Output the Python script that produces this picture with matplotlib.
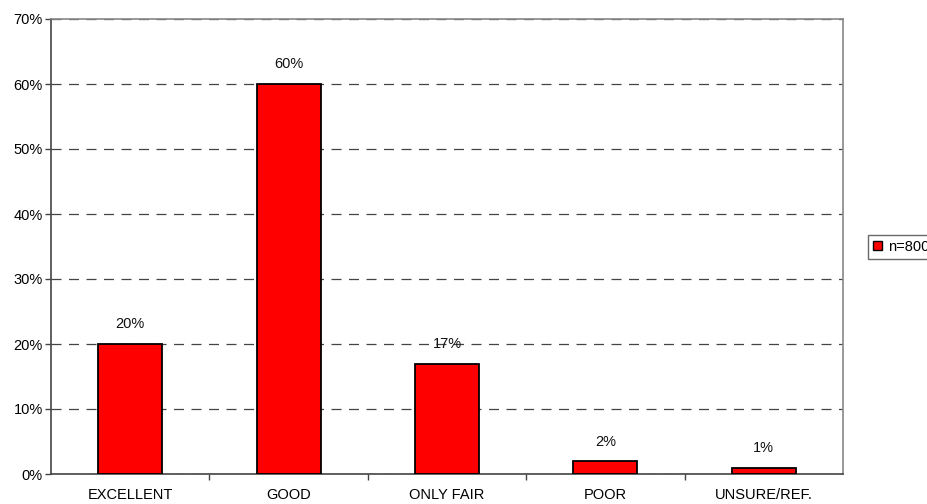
import numpy as np
import matplotlib
matplotlib.use("Agg")
import matplotlib.pyplot as plt
from matplotlib.patches import Patch

plt.rcParams['font.family'] = ['Liberation Sans', 'DejaVu Sans']

categories = ['EXCELLENT', 'GOOD', 'ONLY FAIR', 'POOR', 'UNSURE/REF.']
values = [20, 60, 17, 2, 1]
series_name = 'n=800'

fs = 10.5

fig = plt.figure(figsize=(9.28, 5.04), dpi=100)
ax = fig.add_axes([51/928, 30/504, (843-51)/928, (474-19)/504])

x = np.arange(len(categories))
ax.bar(x, values, width=0.405, color='#ff0000', edgecolor='black', linewidth=1.3, zorder=3)

for xi, v in zip(x, values):
    ax.annotate('%d%%' % v, (xi, v), xytext=(0, 9), textcoords='offset points',
                ha='center', va='bottom', fontsize=fs, color='#111111')

ax.set_xlim(-0.5, len(categories) - 0.5)
ax.set_ylim(0, 70)
ax.set_yticks(np.arange(0, 71, 10))
ax.set_yticklabels(['%d%%' % t for t in range(0, 71, 10)], fontsize=fs)
ax.set_xticks(x)
ax.set_xticklabels(categories, fontsize=fs)
ax.set_xticks(np.arange(0.5, len(categories) - 0.5, 1), minor=True)
ax.tick_params(axis='x', which='major', length=0, pad=10)
ax.tick_params(axis='x', which='minor', length=4, width=1, color='#444444', direction='out')
ax.tick_params(axis='y', length=4, width=1, color='#444444', pad=2)

ax.yaxis.grid(True, linestyle=(0, (8, 6)), color='#444444', linewidth=0.9, zorder=0)
ax.set_axisbelow(True)
for s in ['left', 'bottom']:
    ax.spines[s].set_color('#444444')
    ax.spines[s].set_linewidth(1.2)
for s in ['top', 'right']:
    ax.spines[s].set_color('#888888')
    ax.spines[s].set_linewidth(1.2)

handle = Patch(facecolor='#ff0000', edgecolor='black', linewidth=1)
fig.legend([handle], [series_name], loc='center left', bbox_to_anchor=(868/928, 1 - 247/504),
           fontsize=fs, frameon=True, fancybox=False, edgecolor='#444444',
           handlelength=0.6, handleheight=0.6, handletextpad=0.4, borderpad=0.35,
           borderaxespad=0)

fig.savefig('out.png', dpi=100)
